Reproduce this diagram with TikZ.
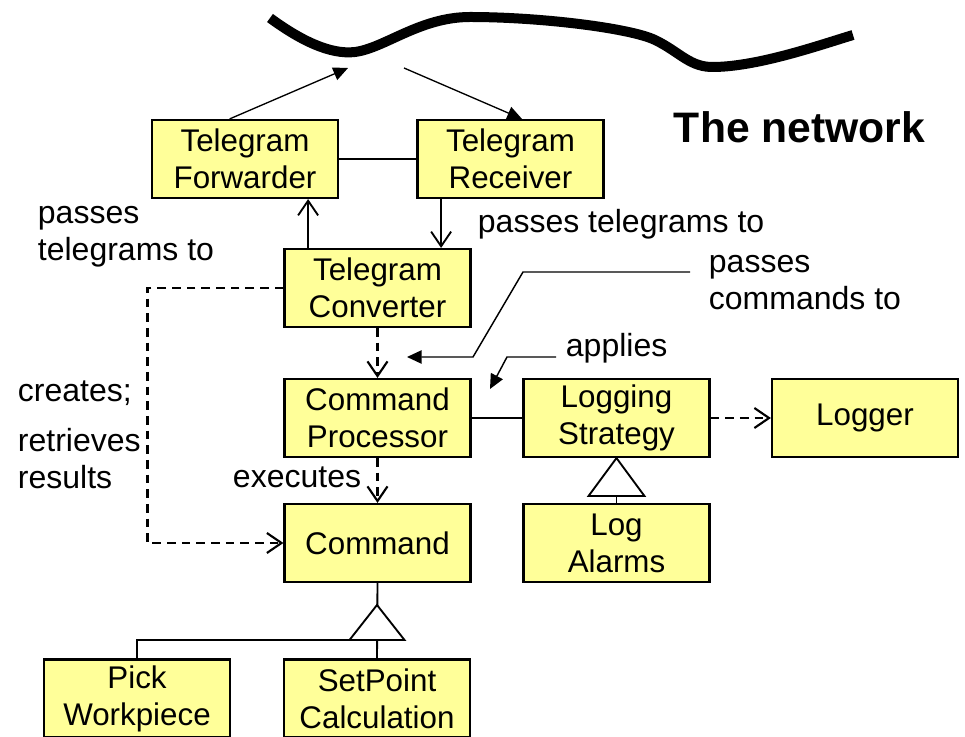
\documentclass[tikz,border=0pt]{standalone}
\usepackage{fontspec}
\setmainfont{Liberation Sans}
\usetikzlibrary{arrows.meta}
\definecolor{classyellow}{RGB}{255,255,153}

\begin{document}
\begin{tikzpicture}[x=0.75pt,y=-0.75pt,line width=1.4pt,
  >={Straight Barb[length=11pt,width=15pt]},
  class node/.style={rectangle,fill=classyellow,draw,line width=1.6pt,minimum width=139.5pt,
    minimum height=58.5pt,align=center,inner sep=0pt,font=\fontsize{23.5}{27.75}\selectfont},
  note node/.style={align=left,inner sep=0pt,anchor=base west,font=\fontsize{24}{28}\selectfont},
  uses/.style={->,line width=1.6pt,dash pattern=on 6.5pt off 4.5pt},
  pointer/.style={-{Triangle[length=11pt,width=10pt]},line width=1.1pt}]

  \useasboundingbox (0,0) rectangle (965,737);

  % the network
  \draw[line width=7.5pt] (270,18) .. controls (300,40) and (330,55) .. (355,52)
    .. controls (385,48) and (420,17) .. (470,17)
    .. controls (540,17) and (630,28) .. (655,40)
    .. controls (680,52) and (690,68) .. (715,67)
    .. controls (760,66) and (820,45) .. (853,35);
  \coordinate (netin) at (348,68);
  \coordinate (netout) at (404,68);

  \node[class node] (fwd) at (245,159) {Telegram\\Forwarder};
  \node[class node] (rcv) at (510.5,159) {Telegram\\Receiver};
  \node[class node] (conv) at (377.5,288) {Telegram\\Converter};
  \node[class node] (proc) at (377.5,418) {Command\\Processor};
  \node[class node] (cmd) at (377.5,543) {Command};
  \node[class node] (strat) at (616.5,418) {Logging\\Strategy};
  \node[class node] (logger) at (865,418) {Logger};
  \node[class node] (alarms) at (616.5,543) {Log\\Alarms};
  \node[class node] (pick) at (137,698.5) {Pick\\Workpiece};
  \node[class node] (setpt) at (377,698.5) {SetPoint\\Calculation};

  % base of a two-line note is its last line
  \node[note node] (net) at (673,143) {\bfseries\fontsize{32}{37}\selectfont The network};
  \node[note node] (fwdnote) at (37,261) {passes\\telegrams to};
  \node[note node] (rcvnote) at (477,233) {passes telegrams to};
  \node[note node] (cmdnote) at (708,310) {passes\\commands to};
  \node[note node] (applnote) at (565,357) {applies};
  \node[note node] (crnote) at (17,402) {creates;};
  \node[note node] (retnote) at (17,489) {retrieves\\results};
  \node[note node,anchor=base east] (exnote) at (362,488) {executes};

  \draw[pointer,line width=1pt] (fwd.111) -- (netin);
  \draw[pointer,line width=1pt] (netout) -- (rcv.74);

  \draw (fwd) -- (rcv);
  \draw[->] (rcv.210) -- (rcv.210 |- conv.north);
  \draw[->] (conv.150) -- (conv.150 |- fwd.south);
  \draw[uses] (conv) -- (proc);
  \draw[uses] (proc) -- (cmd);
  \draw[uses] (conv.west) -- ++(-136,0) |- (cmd.west);
  \draw (proc) -- (strat);
  \draw[uses] (strat) -- (logger);

  % notes pointing at the links
  \coordinate (cmdlead) at (690,272);
  \coordinate (cmdtip) at (407,357);
  \draw[pointer] (cmdlead) -- ++(-167,0) -- ++(-50,85) -- (cmdtip);
  \coordinate (appllead) at (556,357);
  \coordinate (appltip) at (490,389);
  \draw[pointer] (appllead) -- ++(-49,0) -- (appltip);

  % generalisations
  \draw (alarms.north) -- (strat.south);
  \draw[fill=white] (strat.south) -- ++(-28,38) -- ++(56,0) -- cycle;
  \coordinate (gen) at (377,640);
  \draw (cmd.south) -- (setpt.north);
  \draw (pick.north) |- (gen);
  \draw[fill=white] (gen) -- ++(-27.5,0) -- ++(27.5,-35) -- ++(27.5,35) -- cycle;

\end{tikzpicture}
\end{document}
